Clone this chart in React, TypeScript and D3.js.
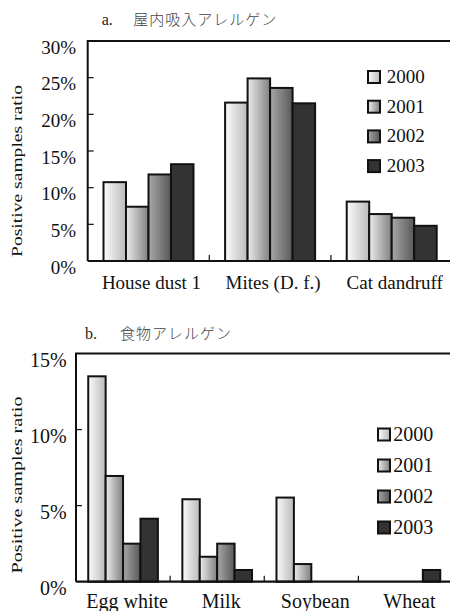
import React from 'react';
import * as d3 from 'd3';

const years = ['2000', '2001', '2002', '2003'];

const categoriesA = ['House dust 1', 'Mites (D. f.)', 'Cat dandruff'];
const a2000 = [10.75, 21.6, 8.1];
const a2001 = [7.4, 24.9, 6.4];
const a2002 = [11.8, 23.6, 5.9];
const a2003 = [13.2, 21.5, 4.8];
const ticksA = [0, 5, 10, 15, 20, 25, 30];

const categoriesB = ['Egg white', 'Milk', 'Soybean', 'Wheat'];
const b2000 = [13.5, 5.42, 5.53, 0];
const b2001 = [6.95, 1.64, 1.16, 0];
const b2002 = [2.5, 2.5, 0, 0];
const b2003 = [4.14, 0.77, 0, 0.77];
const ticksB = [0, 5, 10, 15];

const titleA = ['a.', '屋内吸入アレルゲン'];
const titleB = ['b.', '食物アレルゲン'];
const yLabel = 'Positive samples ratio';

const fills = ['url(#g2000)', 'url(#g2001)', 'url(#g2002)', '#333333'];
const SERIF = "'Liberation Serif', 'DejaVu Serif', serif";
const CJK = "'Noto Sans CJK JP', sans-serif";

type PanelProps = {
  cats: string[];
  series: number[][];
  ticks: number[];
  left: number;
  right: number;
  top: number;
  bottom: number;
  max: number;
  font: number;
  tickLabelRight: number;
  tickLabelDy: number;
  catBaseline: number;
  catDx: number;
  yLabelCenter: number;
  yLabelLen: number;
  legendX: number;
  legendY: number;
  legendStep: number;
  legendTextX: number;
  title: string[];
  titleX: number;
  titleCjkX: number;
  titleBaseline: number;
};

const serifStyle = (size: number) => ({ fontFamily: SERIF, fontSize: size + 'px' });

function Panel(p: PanelProps) {
  const x0 = d3
    .scaleBand<string>()
    .domain(p.cats)
    .range([p.left, p.right])
    .paddingInner(0.26)
    .paddingOuter(0.13);
  const x1 = d3.scaleBand<string>().domain(years).range([0, x0.bandwidth()]);
  const y = d3.scaleLinear().domain([0, p.max]).range([p.bottom, p.top]);
  const step = x0.step();
  return (
    <g>
      <text x={p.titleX} y={p.titleBaseline} style={serifStyle(16)} fill="#222">
        {p.title[0]}
      </text>
      <text
        x={p.titleCjkX}
        y={p.titleBaseline}
        style={{ fontFamily: CJK, fontSize: '15px', letterSpacing: '1px', fontWeight: 300 }}
        fill="#444"
      >
        {p.title[1]}
      </text>
      {p.cats.map((c, ci) =>
        years.map((yr, si) => {
          const v = p.series[si][ci];
          if (!v) return null;
          return (
            <rect
              key={c + yr}
              x={(x0(c) as number) + (x1(yr) as number)}
              y={y(v)}
              width={x1.bandwidth()}
              height={p.bottom - y(v)}
              fill={fills[si]}
              stroke="#111"
              strokeWidth={2}
            />
          );
        })
      )}
      <path
        d={`M${p.left},${p.bottom} V${p.top} H${p.right + 2}`}
        fill="none"
        stroke="#111"
        strokeWidth={2}
      />
      <line x1={p.left} x2={p.right + 2} y1={p.bottom} y2={p.bottom} stroke="#111" strokeWidth={2.2} />
      {p.ticks.map((t) => (
        <g key={t}>
          {t > 0 && t < p.max && (
            <line x1={p.left} x2={p.left + 6} y1={y(t)} y2={y(t)} stroke="#111" strokeWidth={1.2} />
          )}
          <text
            x={p.tickLabelRight}
            y={y(t) + p.tickLabelDy}
            textAnchor="end"
            style={serifStyle(p.font)}
            fill="#111"
          >
            {t + '%'}
          </text>
        </g>
      ))}
      {p.cats.slice(1).map((c) => {
        const xx = (x0(c) as number) - (step - x0.bandwidth()) / 2;
        return <line key={c} x1={xx} x2={xx} y1={p.bottom} y2={p.bottom - 6} stroke="#111" strokeWidth={1.2} />;
      })}
      {p.cats.map((c) => (
        <text
          key={c}
          x={(x0(c) as number) + x0.bandwidth() / 2 + p.catDx}
          y={p.catBaseline}
          textAnchor="middle"
          style={serifStyle(p.font)}
          fill="#111"
        >
          {c}
        </text>
      ))}
      <text
        transform={`translate(22,${p.yLabelCenter}) rotate(-90)`}
        textAnchor="middle"
        style={serifStyle(15)}
        textLength={p.yLabelLen}
        lengthAdjust="spacingAndGlyphs"
        fill="#111"
      >
        {yLabel}
      </text>
      {years.map((yr, i) => (
        <g key={yr}>
          <rect
            x={p.legendX}
            y={p.legendY + i * p.legendStep}
            width={12}
            height={12}
            fill={fills[i]}
            stroke="#111"
            strokeWidth={2}
          />
          <text
            x={p.legendTextX}
            y={p.legendY + i * p.legendStep + 12}
            style={serifStyle(p.font)}
            fill="#111"
          >
            {yr}
          </text>
        </g>
      ))}
    </g>
  );
}

export default function App() {
  return (
    <svg
      width={450}
      height={611}
      viewBox="0 0 450 611"
      style={{ position: 'absolute', left: 0, top: 0, background: '#fff' }}
    >
      <defs>
        <linearGradient id="g2000" x1="0" x2="1" y1="0" y2="0">
          <stop offset="0" stopColor="#fbfbfb" />
          <stop offset="1" stopColor="#bababa" />
        </linearGradient>
        <linearGradient id="g2001" x1="0" x2="1" y1="0" y2="0">
          <stop offset="0" stopColor="#ececec" />
          <stop offset="1" stopColor="#808080" />
        </linearGradient>
        <linearGradient id="g2002" x1="0" x2="1" y1="0" y2="0">
          <stop offset="0" stopColor="#a8a8a8" />
          <stop offset="1" stopColor="#585858" />
        </linearGradient>
      </defs>
      <rect x={0} y={0} width={450} height={611} fill="#fff" />
      <Panel
        cats={categoriesA}
        series={[a2000, a2001, a2002, a2003]}
        ticks={ticksA}
        left={87.7}
        right={452.5}
        top={41}
        bottom={261}
        max={30}
        font={19}
        tickLabelRight={76}
        tickLabelDy={12.5}
        catBaseline={288.7}
        catDx={3}
        yLabelCenter={171}
        yLabelLen={172}
        legendX={368}
        legendY={71}
        legendStep={29.7}
        legendTextX={386.7}
        title={titleA}
        titleX={101.7}
        titleCjkX={133.3}
        titleBaseline={25}
      />
      <Panel
        cats={categoriesB}
        series={[b2000, b2001, b2002, b2003]}
        ticks={ticksB}
        left={76}
        right={452.5}
        top={353.5}
        bottom={581.7}
        max={15}
        font={20}
        tickLabelRight={66.7}
        tickLabelDy={13}
        catBaseline={608}
        catDx={4}
        yLabelCenter={485}
        yLabelLen={177}
        legendX={378}
        legendY={428.5}
        legendStep={31}
        legendTextX={393.3}
        title={titleB}
        titleX={85}
        titleCjkX={120}
        titleBaseline={338.5}
      />
    </svg>
  );
}
